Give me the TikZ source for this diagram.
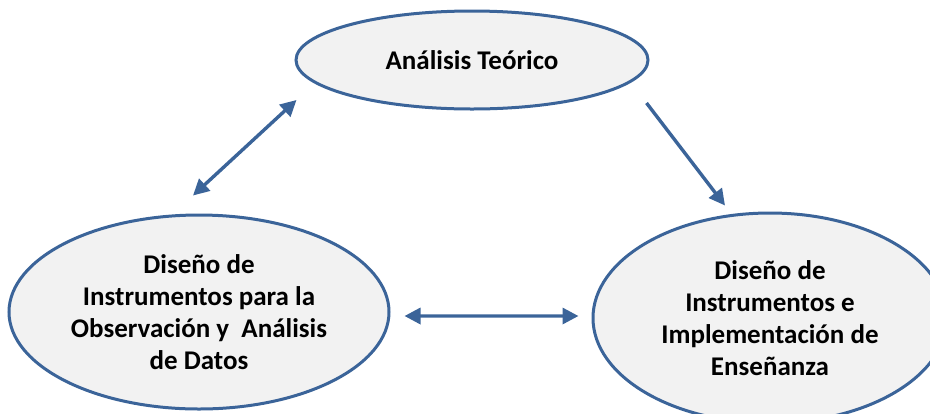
\documentclass[tikz,border=0pt]{standalone}
\usepackage{fontspec}
\setmainfont{Carlito}
\usetikzlibrary{
  arrows.meta,
  calc,
  positioning,
  shapes.geometric,
}
\definecolor{lineblue}{HTML}{3B6499}
\definecolor{fillgray}{HTML}{F2F2F2}
\tikzset{
  >={Triangle[length=16bp,width=16bp]},
  fase/.style={ellipse, draw=lineblue, line width=3bp, fill=fillgray,
    inner sep=0pt, align=center,
    font=\fontsize{27bp}{32bp}\selectfont\bfseries},
  flecha/.style={->, draw=lineblue, fill=lineblue, line width=3.4bp},
}

\begin{document}
\begin{tikzpicture}[x=1bp, y=-1bp]
  \useasboundingbox (0,0) rectangle (930,413);

  % las tres fases
  \node[fase, minimum width=352bp, minimum height=98bp] (teoria) at (472,60)
    {Análisis Teórico};
  \node[fase, minimum width=380bp, minimum height=194bp] (datos) at (199,312)
    {Diseño de\\Instrumentos para la\\Observación y~ Análisis\\de Datos};
  \node[fase, minimum width=354bp, minimum height=210bp] (ensenanza) at (770,318)
    {Diseño de\\Instrumentos e\\Implementación de\\Enseñanza};

  % conexiones
  \draw[flecha, <->] ([xshift=-6bp, yshift=18bp]datos.north)
    -- ([xshift=2bp, yshift=-40bp]teoria.west);
  \draw[flecha] ([xshift=-3bp, yshift=-43bp]teoria.east)
    -- ([xshift=-45bp, yshift=6bp]ensenanza.north);
  \draw[flecha, <->] ([xshift=14bp, yshift=-4bp]datos.east)
    -- ([xshift=-13bp, yshift=2bp]ensenanza.west);
\end{tikzpicture}
\end{document}
